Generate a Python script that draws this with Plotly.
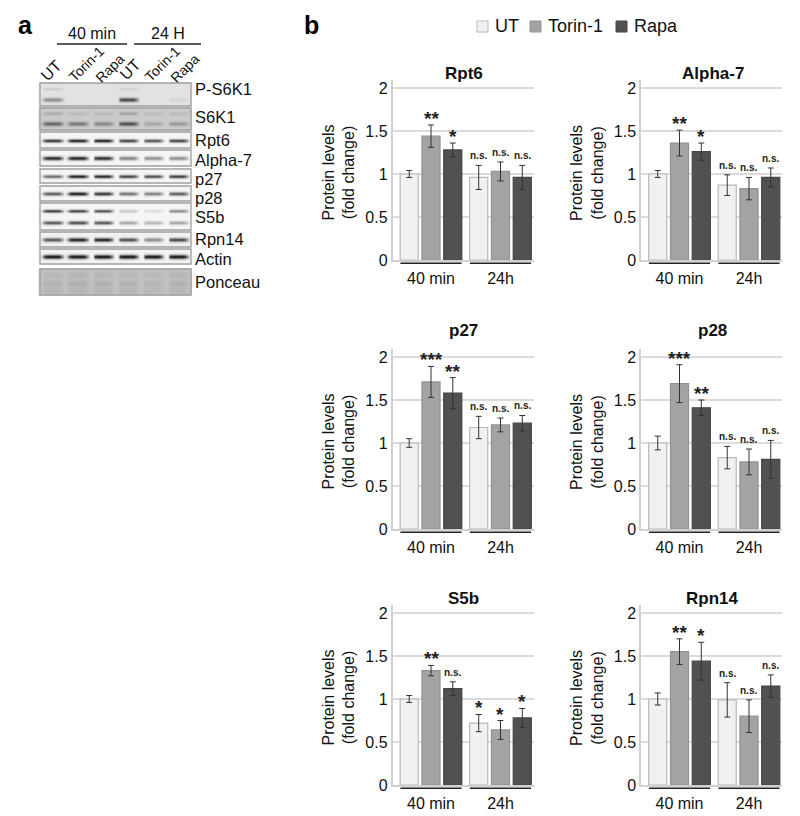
import plotly.graph_objects as go
import numpy as np

W, H = 800, 816
FONT = "Liberation Sans, Arial, sans-serif"

GROUPS = ["40 min", "24h"]
SERIES = ["UT", "Torin-1", "Rapa"]
FILL = ["#f1f1f1", "#a3a3a3", "#515151"]
EDGE = ["#b8b8b8", "#929292", "#454545"]

TITLES = ["Rpt6", "Alpha-7", "p27", "p28", "S5b", "Rpn14"]
# values[panel][series] = [40 min, 24h]
rpt6_val = [[1.00, 0.96], [1.44, 1.03], [1.28, 0.96]]
rpt6_err = [[0.04, 0.14], [0.13, 0.11], [0.08, 0.14]]
rpt6_sig = [["", "n.s."], ["**", "n.s."], ["*", "n.s."]]
alpha7_val = [[1.00, 0.87], [1.36, 0.83], [1.26, 0.96]]
alpha7_err = [[0.04, 0.12], [0.15, 0.13], [0.10, 0.11]]
alpha7_sig = [["", "n.s."], ["**", "n.s."], ["*", "n.s."]]
p27_val = [[1.00, 1.18], [1.71, 1.21], [1.58, 1.23]]
p27_err = [[0.05, 0.13], [0.18, 0.08], [0.18, 0.09]]
p27_sig = [["", "n.s."], ["***", "n.s."], ["**", "n.s."]]
p28_val = [[1.00, 0.83], [1.69, 0.78], [1.41, 0.81]]
p28_err = [[0.08, 0.13], [0.22, 0.15], [0.09, 0.22]]
p28_sig = [["", "n.s."], ["***", "n.s."], ["**", "n.s."]]
s5b_val = [[1.00, 0.72], [1.33, 0.64], [1.12, 0.78]]
s5b_err = [[0.04, 0.10], [0.06, 0.11], [0.08, 0.11]]
s5b_sig = [["", "*"], ["**", "*"], ["n.s.", "*"]]
rpn14_val = [[1.00, 0.99], [1.55, 0.80], [1.44, 1.15]]
rpn14_err = [[0.07, 0.20], [0.15, 0.19], [0.22, 0.13]]
rpn14_sig = [["", "n.s."], ["**", "n.s."], ["*", "n.s."]]
VALUES = [rpt6_val, alpha7_val, p27_val, p28_val, s5b_val, rpn14_val]
ERRORS = [rpt6_err, alpha7_err, p27_err, p28_err, s5b_err, rpn14_err]
SIGS = [rpt6_sig, alpha7_sig, p27_sig, p28_sig, s5b_sig, rpn14_sig]

# Western-blot panel: name, label y, top, bottom, background darkness, bands (centre, lane darkness, thickness)
LANES = [52.5, 77.5, 103, 128, 153, 178]
BLOTS = [
    ("P-S6K1", 89, 83, 106, 0.12, [(88.3, [.10, 0, 0, .08, 0, 0], 1.0), (99, [.38, 0, 0, .68, 0, .05], 1.4)]),
    ("S6K1", 117, 108, 130, 0.22, [(112.7, [.14, .08, .08, .18, .07, .07], 1.1), (123, [.45, .36, .30, .55, .16, .22], 1.4)]),
    ("Rpt6", 140.5, 132, 148, 0.04, [(140, [.85, .95, .95, .80, .72, .80], 1.1)]),
    ("Alpha-7", 160, 150, 166, 0.04, [(157.5, [.90, .92, .88, .50, .45, .45], 1.3)]),
    ("p27", 179, 169, 183, 0.04, [(175.7, [.62, .95, .92, .80, .75, .82], 1.1)]),
    ("p28", 198, 186, 201, 0.04, [(193, [.68, .98, .85, .58, .52, .68], 1.2)]),
    ("S5b", 217, 203, 230, 0.04, [(210.3, [.85, .82, .75, .22, .12, .50], 1.0), (222, [.70, .75, .70, .35, .28, .35], 1.2)]),
    ("Rpn14", 239, 232, 247, 0.06, [(239, [.68, .92, .90, .70, .45, .75], 1.3)]),
    ("Actin", 258.5, 249, 264, 0.05, [(256, [.98, .98, .98, .99, .98, .98], 1.4)]),
    ("Ponceau", 282, 269, 295, 0.26, [(274, [.04, .06, .05, .05, .04, .05], 2.0), (283, [.06, .08, .07, .07, .05, .07], 2.5), (290, [.05, .06, .06, .06, .04, .05], 2.0)]),
]
LANE_LABELS = ["UT", "Torin-1", "Rapa", "UT", "Torin-1", "Rapa"]
LANE_LABEL_POS = [(51, 70), (86, 64), (110, 68), (130, 69), (162, 64), (185, 68)]

# Pixel layout
COLS = [(392.5, 533.5), (641, 782)]
ROWS = [(80, 260), (349, 529), (605, 785)]
TITLE_Y = [73, 330, 598]
px = lambda v: v / W
py = lambda v: 1 - v / H

fig = go.Figure()
annotations, shapes = [], []

def text(t, x, y, size, anchor="center", angle=0, color="#111"):
    annotations.append(dict(text=t, x=px(x), y=py(y), xref="paper", yref="paper", showarrow=False,
                            xanchor=anchor, yanchor="middle", textangle=angle, borderpad=0,
                            font=dict(family=FONT, size=size, color=color)))

# --- panel a on a pixel overlay axis -------------------------------------------
OVER = dict(domain=[0, 1], visible=False, fixedrange=True, automargin=False)
cols_x = np.arange(40, 191.5, 2.5)
for name, label_y, top, bot, bg, bands in BLOTS:
    rows_y = np.arange(top, bot + 0.5, 1.0)
    z = np.full((len(rows_y), len(cols_x)), bg, dtype=float)
    for centre, dark, sigma in bands:
        for lane, d in zip(LANES, dark):
            for k, xv in enumerate(cols_x):
                dist = abs(xv - lane)
                factor = 1.0 if dist <= 6 else (0.85 if dist <= 8 else (0.4 if dist <= 10 else 0.0))
                z[:, k] += d * factor * np.exp(-((rows_y - centre) ** 2) / (2 * sigma ** 2))
    fig.add_trace(go.Heatmap(x=cols_x, y=rows_y, z=np.clip(z, 0, 1), xaxis="x7", yaxis="y7",
                             zmin=0, zmax=1, zsmooth="best", showscale=False, hoverinfo="skip",
                             colorscale=[[0, "#ffffff"], [1, "#111111"]]))
    shapes.append(dict(type="rect", xref="x7", yref="y7", x0=40, x1=191, y0=top, y1=bot,
                       line=dict(color="#a0a0a0", width=1.3)))
    text(name, 194, label_y, 16.5, anchor="left")

for (lx, ly), lab in zip(LANE_LABEL_POS, LANE_LABELS):
    text(lab, lx, ly, 14 if lab != "UT" else 16, angle=-45)
for label, x0, x1 in [("40 min", 57, 127), ("24 H", 134, 201)]:
    text(label, (x0 + x1) / 2, 34, 16)
    shapes.append(dict(type="line", xref="paper", yref="paper", x0=px(x0), x1=px(x1), y0=py(44), y1=py(44),
                       line=dict(color="#222", width=1.5)))
text("<b>a</b>", 25, 25, 25, color="#000")
text("<b>b</b>", 311, 25, 25, color="#000")

# --- legend key -------------------------------------------------------------------
for s, (sname, x0) in enumerate(zip(SERIES, [477, 530, 616])):
    shapes.append(dict(type="rect", xref="paper", yref="paper", x0=px(x0), x1=px(x0 + 11), y0=py(32), y1=py(21),
                       fillcolor=FILL[s], line=dict(color=EDGE[s], width=1)))
    text(sname, x0 + 17, 26.5, 18, anchor="left")

# --- panel b: bars ---------------------------------------------------------------
layout_axes = {}
BAR_STEP = 0.31
for p, title in enumerate(TITLES):
    idx = "" if p == 0 else str(p + 1)
    col, row = COLS[p % 2], ROWS[p // 2]
    xa, ya = f"x{idx}", f"y{idx}"
    for s, sname in enumerate(SERIES):
        fig.add_trace(go.Bar(
            x=GROUPS, y=VALUES[p][s], name=sname, xaxis=xa, yaxis=ya, legendgroup=sname,
            showlegend=False, marker=dict(color=FILL[s], line=dict(color=EDGE[s], width=1.2)),
            error_y=dict(type="data", array=ERRORS[p][s], color="#333333", thickness=1, width=3),
        ))
        for g in range(2):
            sig = SIGS[p][s][g]
            if not sig:
                continue
            stars = sig != "n.s."
            annotations.append(dict(
                text=f"<b>{sig}</b>", x=g + (s - 1) * BAR_STEP,
                y=VALUES[p][s][g] + ERRORS[p][s][g], xref=xa, yref=ya, showarrow=False,
                xanchor="center", yanchor="bottom", yshift=-6 if stars else 2,
                font=dict(family=FONT, size=19 if stars else 10, color="#222")))
    layout_axes[f"xaxis{idx}"] = dict(
        domain=[px(col[0]), px(col[1])], anchor=ya, type="category", categoryorder="array",
        categoryarray=GROUPS, range=[-0.554, 1.475], showgrid=False, zeroline=False, automargin=False,
        ticks="outside", ticklen=3, tickcolor="rgba(0,0,0,0)", showline=True, linecolor="#d0d0d0", linewidth=1.5,
        tickfont=dict(family=FONT, size=16, color="#111"), fixedrange=True)
    layout_axes[f"yaxis{idx}"] = dict(
        domain=[py(row[1]), py(row[0])], anchor=xa, range=[0, 2.093], tickvals=[0, 0.5, 1, 1.5, 2],
        ticktext=["0", "0.5", "1", "1.5", "2"], showgrid=True, gridcolor="#dcdcdc", gridwidth=1.5,
        zeroline=False, showline=True, linecolor="#d0d0d0", linewidth=1.5, automargin=False,
        tickfont=dict(family=FONT, size=16, color="#111"), fixedrange=True)
    annotations.append(dict(text="Protein levels<br>(fold change)", x=px(col[0] - 54), y=py((row[0] + row[1]) / 2 + 3),
                            xref="paper", yref="paper", showarrow=False, xanchor="center", yanchor="middle",
                            textangle=-90, borderpad=0, font=dict(family=FONT, size=16, color="#111")))
    text(f"<b>{title}</b>", (col[0] + col[1]) / 2 + 1, TITLE_Y[p // 2], 17)
    for lo, hi in [(-0.44, 0.44), (0.56, 1.44)]:
        shapes.append(dict(type="line", xref=xa, yref=f"{ya} domain", x0=lo, x1=hi, y0=-0.018, y1=-0.018,
                           line=dict(color="#222", width=1.5)))

fig.update_layout(
    width=W, height=H, margin=dict(l=0, r=0, t=0, b=0), autosize=False,
    paper_bgcolor="white", plot_bgcolor="rgba(0,0,0,0)", barmode="group", bargap=0.06, bargroupgap=0.17,
    showlegend=False, font=dict(family=FONT, color="#111"),
    xaxis7=dict(OVER, range=[0, W], anchor="y7"),
    yaxis7=dict(OVER, range=[H, 0], anchor="x7"),
    annotations=annotations, shapes=shapes,
    **layout_axes,
)
fig.write_html("out.html", post_script="document.body.style.margin='0';", config=dict(displayModeBar=False))
